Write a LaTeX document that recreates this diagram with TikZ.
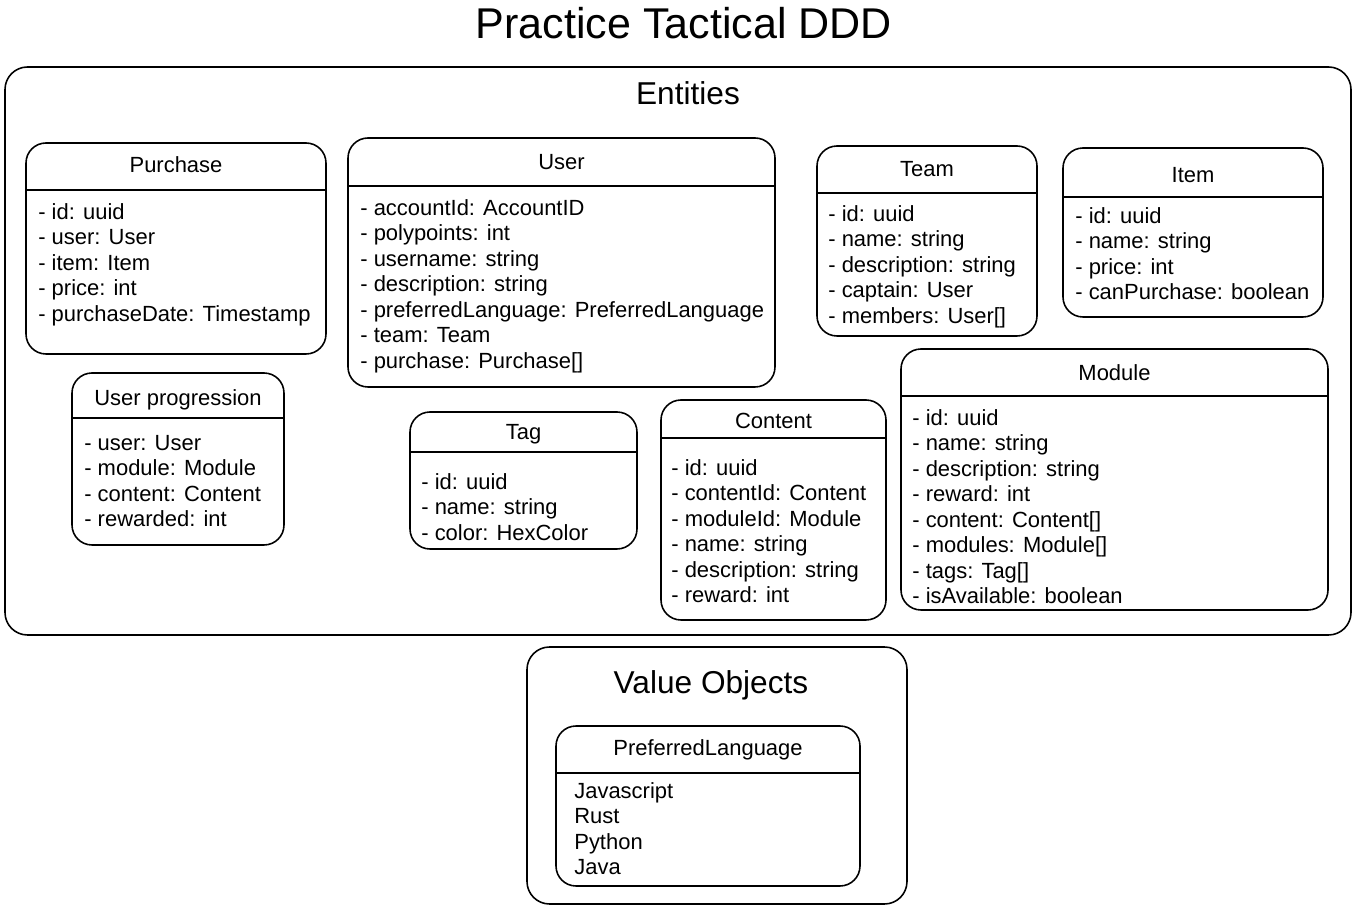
\documentclass[tikz,border=0pt]{standalone}
\usepackage{fontspec}
\setmainfont{Liberation Sans}
\usetikzlibrary{fit}

\begin{document}
\begin{tikzpicture}[
    x=0.02cm, y=-0.02cm,
    frame/.style={draw, rounded corners=0.45cm, line width=0.9pt, inner sep=0pt},
    cls/.style={draw, rounded corners=0.4cm, line width=0.9pt, inner sep=0pt},
    sep/.style={line width=1.5pt},
    ttl/.style={font=\fontsize{12.5}{14.5}\selectfont},
    attr/.style={anchor=north west, inner sep=0pt, align=left, font=\fontsize{12.5}{14.5}\selectfont, execute at begin node=\strut},
    heading/.style={font=\fontsize{18}{21}\selectfont}
]
\useasboundingbox (0,0) rectangle (1357,911);

\node[font=\fontsize{24.5}{28}\selectfont] (title) at (684,23) {Practice Tactical DDD};

% entities
\node[frame, fit={(5,67) (1351,635)}] (entities) {};
\node[heading] (entitiesLabel) at (688,93) {Entities};

\node[cls, fit={(26,143) (326,354)}] (purchase) {};
\node[ttl] (purchaseTitle) at (purchase.north |- 0,165) {Purchase};
\draw[sep] (purchase.west |- 0,190) -- (purchase.east |- 0,190);
\node[attr] (purchaseAttr) at (38,203) {- id: uuid\\- user: User\\- item: Item\\- price: int\\- purchaseDate: Timestamp};

\node[cls, fit={(348,138) (775,387)}] (user) {};
\node[ttl] (userTitle) at (user.north |- 0,162) {User};
\draw[sep] (user.west |- 0,186) -- (user.east |- 0,186);
\node[attr] (userAttr) at (360,199) {- accountId: AccountID\\- polypoints: int\\- username: string\\- description: string\\- preferredLanguage: PreferredLanguage\\- team: Team\\- purchase: Purchase[]};

\node[cls, fit={(817,146) (1037,336)}] (team) {};
\node[ttl] (teamTitle) at (team.north |- 0,169) {Team};
\draw[sep] (team.west |- 0,193) -- (team.east |- 0,193);
\node[attr] (teamAttr) at (828,205) {- id: uuid\\- name: string\\- description: string\\- captain: User\\- members: User[]};

\node[cls, fit={(1063,148) (1323,317)}] (item) {};
\node[ttl] (itemTitle) at (item.north |- 0,175) {Item};
\draw[sep] (item.west |- 0,197) -- (item.east |- 0,197);
\node[attr] (itemAttr) at (1075,207) {- id: uuid\\- name: string\\- price: int\\- canPurchase: boolean};

\node[cls, fit={(72,373) (284,545)}] (progression) {};
\node[ttl] (progressionTitle) at (progression.north |- 0,400) {User progression};
\draw[sep] (progression.west |- 0,418) -- (progression.east |- 0,418);
\node[attr] (progressionAttr) at (84,435) {- user: User\\- module: Module\\- content: Content\\- rewarded: int};

\node[cls, fit={(410,412) (637,549)}] (tag) {};
\node[ttl] (tagTitle) at (tag.north |- 0,434) {Tag};
\draw[sep] (tag.west |- 0,452) -- (tag.east |- 0,452);
\node[attr] (tagAttr) at (421,473) {- id: uuid\\- name: string\\- color: HexColor};

\node[cls, fit={(661,400) (886,620)}] (content) {};
\node[ttl] (contentTitle) at (content.north |- 0,421) {Content};
\draw[sep] (content.west |- 0,438) -- (content.east |- 0,438);
\node[attr] (contentAttr) at (671,459) {- id: uuid\\- contentId: Content\\- moduleId: Module\\- name: string\\- description: string\\- reward: int};

\node[cls, fit={(901,349) (1328,610)}] (module) {};
\node[ttl] (moduleTitle) at (module.north |- 0,373) {Module};
\draw[sep] (module.west |- 0,396) -- (module.east |- 0,396);
\node[attr] (moduleAttr) at (912,409) {- id: uuid\\- name: string\\- description: string\\- reward: int\\- content: Content[]\\- modules: Module[]\\- tags: Tag[]\\- isAvailable: boolean};

% value objects
\node[frame, fit={(527,647) (907,904)}] (values) {};
\node[heading] (valuesLabel) at (711,685) {Value Objects};

\node[cls, fit={(556,726) (860,886)}] (language) {};
\node[ttl] (languageTitle) at (language.north |- 0,750) {PreferredLanguage};
\draw[sep] (language.west |- 0,773) -- (language.east |- 0,773);
\node[attr] (languageAttr) at (574,782) {Javascript\\Rust\\Python\\Java};
\end{tikzpicture}
\end{document}
